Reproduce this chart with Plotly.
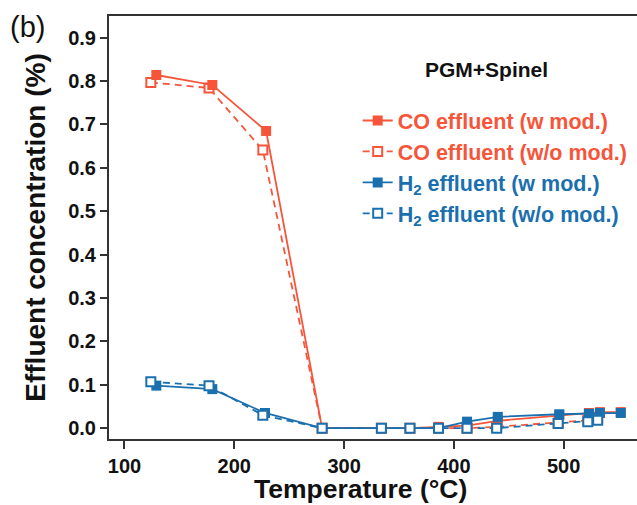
import plotly.graph_objects as go

RED = "#F7553A"
BLUE = "#1A70AE"

# Temperatures (°C) and effluent concentrations (%)
T_co_w = [129, 180, 229, 280, 334, 360, 386, 412, 440, 496, 523, 533, 552]
co_w = [0.814, 0.791, 0.685, 0.0, 0.0, 0.0, 0.003, 0.006, 0.017, 0.030, 0.035, 0.037, 0.037]

T_co_wo = [124, 177, 226, 280, 334, 360, 386, 412, 439, 495, 522, 531]
co_wo = [0.797, 0.784, 0.641, 0.0, 0.0, 0.0, 0.0, 0.0, 0.003, 0.012, 0.018, 0.022]

T_h2_w = [129, 180, 228, 280, 334, 360, 386, 412, 440, 496, 523, 533, 552]
h2_w = [0.098, 0.090, 0.035, 0.0, 0.0, 0.0, 0.0, 0.015, 0.026, 0.032, 0.033, 0.035, 0.035]

T_h2_wo = [124, 177, 226, 280, 334, 360, 386, 412, 439, 495, 522, 531]
h2_wo = [0.107, 0.098, 0.030, 0.0, 0.0, 0.0, 0.0, 0.0, 0.0, 0.011, 0.015, 0.018]

x_ticks = [100, 200, 300, 400, 500]
y_ticks = [0.0, 0.1, 0.2, 0.3, 0.4, 0.5, 0.6, 0.7, 0.8, 0.9]

names = [
    f"<span style='color:{RED}'>CO effluent (w mod.)</span>",
    f"<span style='color:{RED}'>CO effluent (w/o mod.)</span>",
    f"<span style='color:{BLUE}'>H<sub>2</sub> effluent (w mod.)</span>",
    f"<span style='color:{BLUE}'>H<sub>2</sub> effluent (w/o mod.)</span>",
]

DASH = "7px,5px"
FONT = "Liberation Sans, Arial, sans-serif"

fig = go.Figure()
fig.add_trace(go.Scatter(x=T_co_wo, y=co_wo, mode="lines+markers", name=names[1],
                         line=dict(color=RED, width=1.8, dash=DASH),
                         marker=dict(symbol="square", size=9, color="white", line=dict(width=2, color=RED)),
                         legendrank=2))
fig.add_trace(go.Scatter(x=T_co_w, y=co_w, mode="lines+markers", name=names[0],
                         line=dict(color=RED, width=1.8),
                         marker=dict(symbol="square", size=10, color=RED),
                         legendrank=1))
fig.add_trace(go.Scatter(x=T_h2_w, y=h2_w, mode="lines+markers", name=names[2],
                         line=dict(color=BLUE, width=1.8),
                         marker=dict(symbol="square", size=10, color=BLUE),
                         legendrank=3))
fig.add_trace(go.Scatter(x=T_h2_wo, y=h2_wo, mode="lines+markers", name=names[3],
                         line=dict(color=BLUE, width=1.8, dash=DASH),
                         marker=dict(symbol="square", size=9, color="white", line=dict(width=2, color=BLUE)),
                         legendrank=4))

fig.update_layout(
    width=637, height=505,
    margin=dict(l=109, r=0, t=16, b=66),
    paper_bgcolor="white", plot_bgcolor="white",
    font=dict(family=FONT, color="#111"),
    showlegend=True,
    legend=dict(x=0.471, y=0.643, xanchor="left", yanchor="middle",
                font=dict(size=21.5, family=FONT, weight="bold"),
                bgcolor="rgba(0,0,0,0)", itemwidth=30, tracegroupgap=0),
    xaxis=dict(range=[85.9, 566.8], tickvals=x_ticks, ticks="outside", ticklen=8, tickwidth=2,
               tickcolor="#333", showline=True, linecolor="#333", linewidth=2, mirror=True,
               showgrid=False, zeroline=False, automargin=False,
               tickfont=dict(size=20, weight="bold", color="#111")),
    yaxis=dict(range=[-0.025, 0.95], tickvals=y_ticks, tickformat=".1f", ticks="outside", ticklen=7,
               tickwidth=2, tickcolor="#333", showline=True, linecolor="#333", linewidth=2, mirror=False,
               showgrid=False, zeroline=False, automargin=False,
               tickfont=dict(size=20, weight="bold", color="#111"),
               title=dict(text="Effluent concentration (%)", font=dict(size=28, weight="bold", color="#111"),
                          standoff=14)),
    annotations=[
        dict(text="Temperature (°C)", x=(360 - 109) / 528, y=-(489 - 439) / 423,
             xref="paper", yref="paper", showarrow=False,
             font=dict(size=26.5, weight="bold", color="#111"), xanchor="center", yanchor="middle"),
        dict(text="PGM+Spinel", x=0.715, y=0.874, xref="paper", yref="paper", showarrow=False,
             font=dict(size=21, weight="bold", color="#111"), xanchor="center", yanchor="middle"),
        dict(text="(b)", x=-0.155, y=0.974, xref="paper", yref="paper", showarrow=False,
             font=dict(size=29, color="#111"), xanchor="center", yanchor="middle"),
    ],
)

fig.write_html("out.html", post_script="document.body.style.margin='0';",
               config={"displayModeBar": False})
